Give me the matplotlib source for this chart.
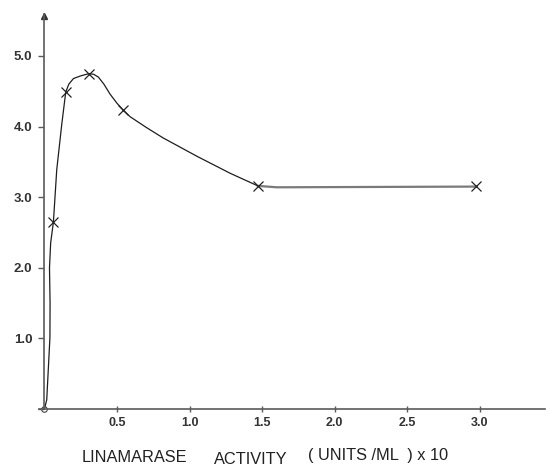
import matplotlib
matplotlib.use("Agg")
import matplotlib.pyplot as plt

plt.rcParams["font.family"] = ["Liberation Sans", "DejaVu Sans"]

marker_x = [0.062, 0.147, 0.307, 0.540, 1.470, 2.975]
marker_y = [2.65, 4.49, 4.75, 4.24, 3.16, 3.16]

# Hand-drawn curve through the points
curve_x = [0.0, 0.016, 0.038, 0.039, 0.035, 0.043, 0.062, 0.085, 0.120,
           0.147, 0.168, 0.200, 0.253, 0.307, 0.340, 0.372, 0.410, 0.452,
           0.500, 0.540, 0.590, 0.700, 0.817, 1.050, 1.278, 1.470]
curve_y = [0.0, 0.13, 1.01, 1.50, 2.00, 2.35, 2.65, 3.39, 4.04,
           4.49, 4.60, 4.68, 4.72, 4.75, 4.74, 4.70, 4.60, 4.46,
           4.33, 4.24, 4.14, 3.99, 3.84, 3.58, 3.34, 3.16]

# Flat tail after the last peak-side point
tail_x = [1.470, 1.60, 2.975]
tail_y = [3.16, 3.14, 3.15]

y_ticks = [0, 1, 2, 3, 4, 5]
y_labels = ["", "1.0", "2.0", "3.0", "4.0", "5.0"]
x_ticks = [0.5, 1.0, 1.5, 2.0, 2.5, 3.0]
x_labels = ["0.5", "1.0", "1.5", "2.0", "2.5", "3.0"]

W, H = 546, 465
fig = plt.figure(figsize=(W / 100, H / 100), dpi=100)

x0_px, x1_px = 38.6, 545.3
y0_px, y1_px = 409.0, 13.6
ax = fig.add_axes([x0_px / W, (H - y0_px) / H,
                   (x1_px - x0_px) / W, (y0_px - y1_px) / H])
ax.set_xlim(-0.04, 3.45)
ax.set_ylim(0, 5.6)

axis_col = "#5a5a5a"
for side in ("top", "right"):
    ax.spines[side].set_visible(False)
ax.spines["left"].set_position(("data", 0))
for side in ("left", "bottom"):
    ax.spines[side].set_color(axis_col)
    ax.spines[side].set_linewidth(1.2)

# arrow head on the y axis
ax.plot(0, 5.56, marker="^", ms=4.5, color="#333333", clip_on=False)

ax.set_yticks(y_ticks)
ax.set_yticklabels(y_labels)
ax.set_xticks(x_ticks)
ax.set_xticklabels(x_labels)
ax.tick_params(axis="y", direction="out", length=4.3, width=1.0, color=axis_col,
               pad=4.3, labelsize=9.5, labelcolor="#333333")
ax.tick_params(axis="x", direction="inout", length=5, width=1.0, color=axis_col,
               pad=3, labelsize=9, labelcolor="#333333")
for lab in ax.get_xticklabels() + ax.get_yticklabels():
    lab.set_fontweight("bold")

ax.plot(curve_x, curve_y, color="#1e1e1e", lw=0.9, clip_on=False)
ax.plot(tail_x, tail_y, color="#7a7a7a", lw=1.6, clip_on=False)
ax.plot(marker_x, marker_y, linestyle="none", marker="x", ms=7, mew=0.9,
        color="#222222", clip_on=False)
ax.plot([0], [0], linestyle="none", marker="o", ms=4, mfc="none", mew=0.8,
        color="#444444", clip_on=False)

# axis caption, written as three separate pieces like the original
fig.text(82 / W, 1 - 457 / H, "LINAMARASE", fontsize=11.8, color="#222222",
         ha="left", va="center")
fig.text(214 / W, 1 - 459 / H, "ACTIVITY", fontsize=11.8, color="#222222",
         ha="left", va="center")
fig.text(308 / W, 1 - 455.5 / H, "( UNITS /ML  ) x 10", fontsize=11.8,
         color="#222222", ha="left", va="center")

fig.savefig("out.png", dpi=100)
